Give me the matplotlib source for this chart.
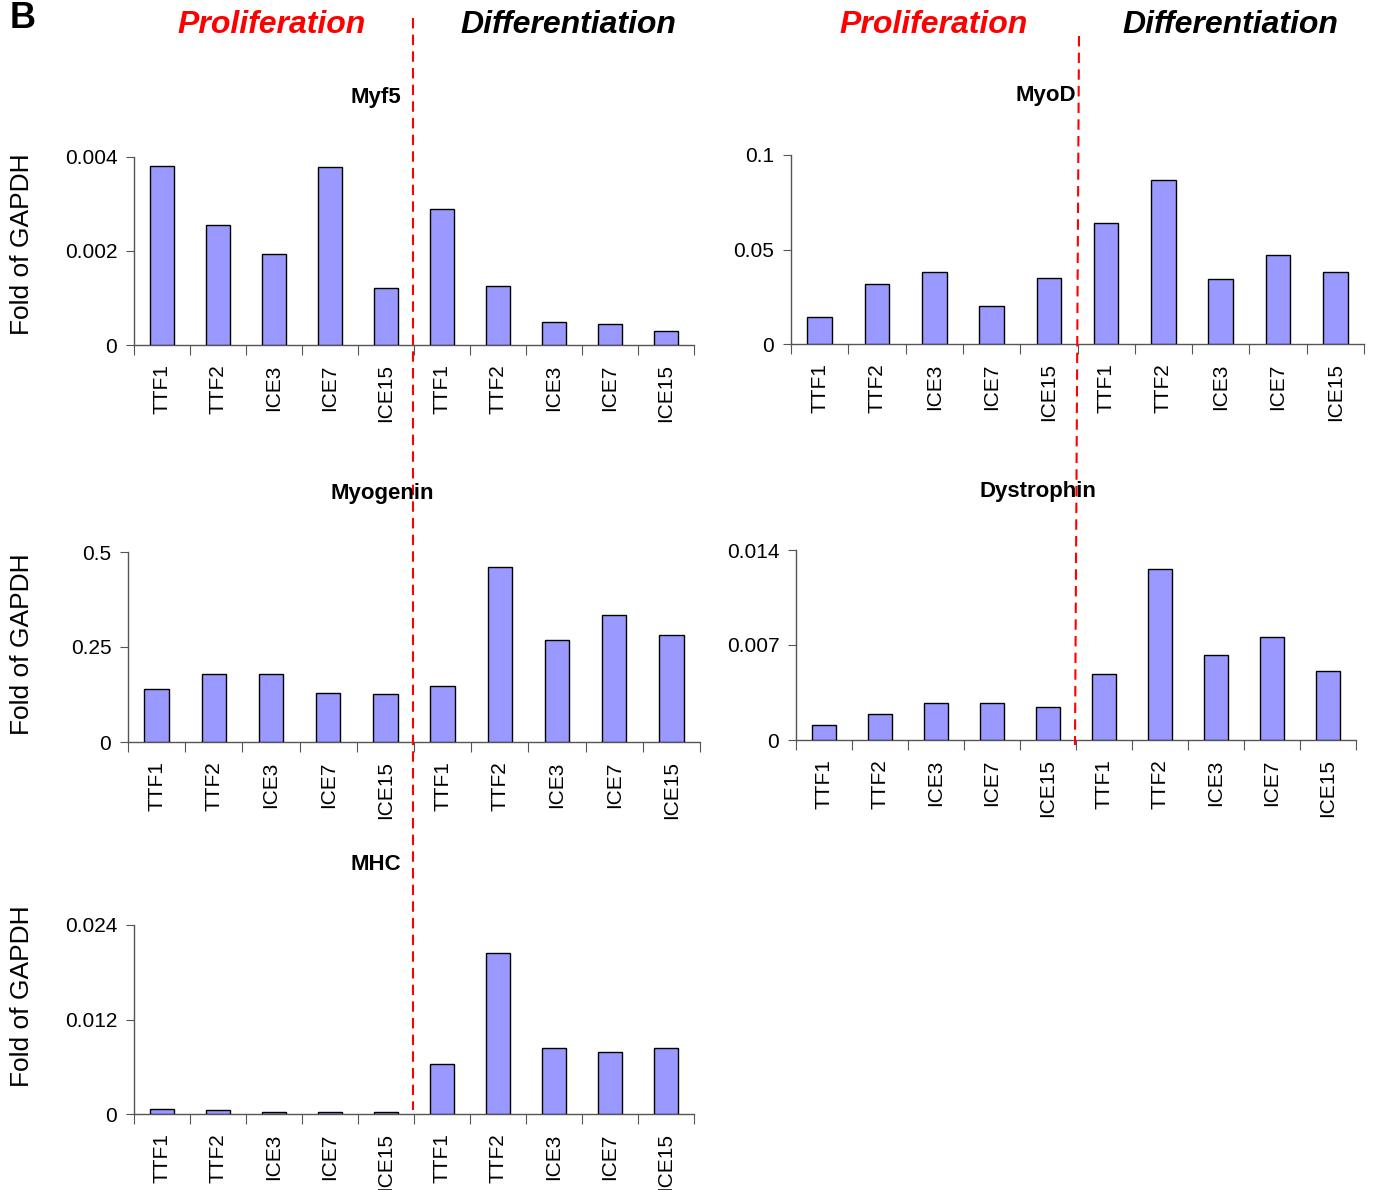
import matplotlib.pyplot as plt
from matplotlib.lines import Line2D
from matplotlib.ticker import FixedLocator

plt.rcParams['font.family'] = ['Liberation Sans', 'DejaVu Sans']

labels = ['TTF1', 'TTF2', 'ICE3', 'ICE7', 'ICE15', 'TTF1', 'TTF2', 'ICE3', 'ICE7', 'ICE15']

myf5 = [0.0038, 0.00255, 0.00194, 0.00379, 0.00121, 0.00289, 0.00126, 0.00049, 0.00045, 0.0003]
myod = [0.0143, 0.0317, 0.038, 0.020, 0.035, 0.064, 0.0868, 0.0344, 0.047, 0.038]
myogenin = [0.139, 0.179, 0.179, 0.129, 0.126, 0.147, 0.46, 0.268, 0.334, 0.282]
dystrophin = [0.0011, 0.0019, 0.0027, 0.0027, 0.0024, 0.0049, 0.0126, 0.0063, 0.0076, 0.0051]
mhc = [0.0006, 0.0005, 0.0002, 0.0002, 0.0002, 0.0063, 0.0204, 0.0084, 0.0079, 0.0084]

W, H = 1374, 1190
fig = plt.figure(figsize=(W / 100, H / 100), dpi=100)


def px_axes(x0, y0, x1, y1):
    return fig.add_axes([x0 / W, 1 - y1 / H, (x1 - x0) / W, (y1 - y0) / H])


panels = [
    # values, yticks, ticklabels, box(px), title, title pos(px), ylabel centre y (px)
    (myf5, [0, 0.002, 0.004], ['0', '0.002', '0.004'], (134, 157, 694, 345), 'Myf5', (376, 97), 244),
    (myod, [0, 0.05, 0.1], ['0', '0.05', '0.1'], (791, 155, 1364, 344), 'MyoD', (1046, 95), None),
    (myogenin, [0, 0.25, 0.5], ['0', '0.25', '0.5'], (128, 552, 700, 742), 'Myogenin', (382, 493), 644),
    (dystrophin, [0, 0.007, 0.014], ['0', '0.007', '0.014'], (796, 550, 1356, 740), 'Dystrophin', (1038, 491), None),
    (mhc, [0, 0.012, 0.024], ['0', '0.012', '0.024'], (134, 925, 694, 1114), 'MHC', (376, 864), 996),
]

spine_col = '#555555'
for vals, yt, ytl, box, title, tpos, ylab_y in panels:
    ax = px_axes(*box)
    x = range(len(vals))
    ax.bar(x, vals, width=0.43, color='#9999ff', edgecolor='black', linewidth=1.0, zorder=3)
    ax.set_xlim(-0.5, len(vals) - 0.5)
    ax.set_ylim(0, yt[-1])
    ax.set_yticks(yt)
    ax.set_yticklabels(ytl, fontsize=15)
    ax.xaxis.set_major_locator(FixedLocator([i - 0.5 for i in range(len(vals) + 1)]))
    ax.xaxis.set_major_formatter(plt.NullFormatter())
    ax.set_xticks(list(x), minor=True)
    ax.set_xticklabels(labels, minor=True, rotation=90, fontsize=15)
    ax.tick_params(axis='x', which='major', direction='out', length=7, color=spine_col)
    ax.tick_params(axis='x', which='minor', length=0, pad=14)
    ax.tick_params(axis='y', direction='out', length=6, color=spine_col, pad=6)
    for s in ['top', 'right']:
        ax.spines[s].set_visible(False)
    for s in ['left', 'bottom']:
        ax.spines[s].set_color(spine_col)
        ax.spines[s].set_linewidth(1.0)
    ax.patch.set_alpha(0)
    fig.text(tpos[0] / W, 1 - tpos[1] / H, title, fontsize=16, fontweight='bold',
             ha='center', va='center')
    if ylab_y is not None:
        fig.text(22 / W, 1 - ylab_y / H, 'Fold of GAPDH', fontsize=19, rotation=90,
                 ha='center', va='center')

# section headers
for cx, txt, col in [(272, 'Proliferation', 'red'), (568, 'Differentiation', 'black'),
                     (934, 'Proliferation', 'red'), (1230, 'Differentiation', 'black')]:
    fig.text(cx / W, 1 - 25 / H, txt, fontsize=23, fontweight='bold', fontstyle='italic',
             color=col, ha='center', va='center')

fig.text(10 / W, 1 - 28 / H, 'B', fontsize=26, fontweight='bold', ha='left', va='baseline')

# red dashed separators
fig.add_artist(Line2D([413 / W, 413 / W], [1 - 18 / H, 1 - 1110 / H], color='red',
                      linestyle=(0, (5, 3)), linewidth=1.5, transform=fig.transFigure))
fig.add_artist(Line2D([1079 / W, 1075 / W], [1 - 36 / H, 1 - 745 / H], color='red',
                      linestyle=(0, (5, 3)), linewidth=1.5, transform=fig.transFigure))

fig.savefig('out.png', dpi=100)
